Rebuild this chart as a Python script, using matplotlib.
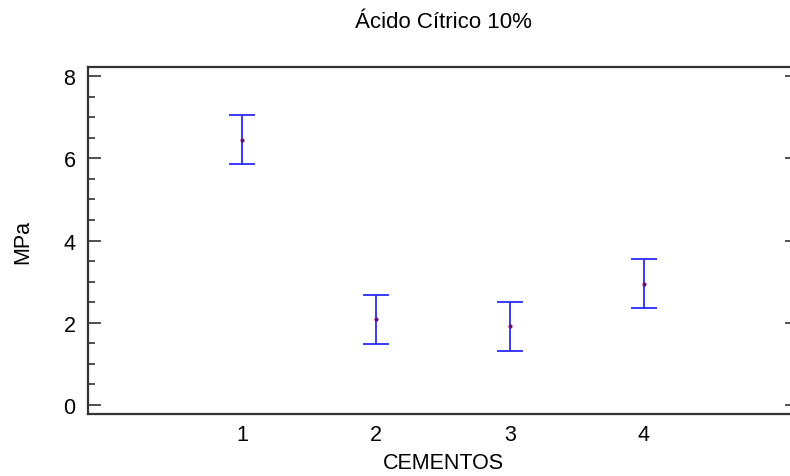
import matplotlib
matplotlib.use("Agg")
import matplotlib.pyplot as plt
from matplotlib.ticker import MultipleLocator

plt.rcParams['font.family'] = ['Liberation Sans', 'DejaVu Sans']

categories = [1, 2, 3, 4]
means = [6.45, 2.08, 1.91, 2.95]
lower = [5.85, 1.49, 1.32, 2.35]
upper = [7.05, 2.68, 2.51, 3.54]
tick_labels = ['1', '2', '3', '4']

err_lo = [m - l for m, l in zip(means, lower)]
err_hi = [u - m for m, u in zip(means, upper)]

fig = plt.figure(figsize=(7.9, 4.77), dpi=100)
ax = fig.add_axes([88/790, 62/477, (798-88)/790, (415-68)/477])

ax.errorbar(categories, means, yerr=[err_lo, err_hi], fmt='none',
            ecolor='#2a2aff', elinewidth=1.3, capsize=9.6, capthick=1.3)
ax.plot(categories, means, linestyle='none', marker='o', markersize=2,
        color='#6a1070')

ax.set_xlim(-0.15, 5.15)
ax.set_ylim(-0.22, 8.22)
ax.set_xticks(categories)
ax.set_xticklabels(tick_labels)
ax.yaxis.set_major_locator(MultipleLocator(2))
ax.yaxis.set_minor_locator(MultipleLocator(0.5))

ax.tick_params(axis='x', length=0, labelsize=15.5, pad=7)
ax.tick_params(axis='y', which='major', direction='in', length=9.4, width=1.2,
               color='#333333', labelsize=15.5, right=True, pad=9)
ax.tick_params(axis='y', which='minor', direction='in', length=5, width=1.2,
               color='#333333', right=False)

for s in ax.spines.values():
    s.set_color('#333333')
    s.set_linewidth(1.6)

ax.set_xlabel('CEMENTOS', fontsize=15.5, labelpad=5)
ax.set_ylabel('MPa', fontsize=15.5, labelpad=22)
fig.text(443/790, 1 - 23/477, 'Ácido Cítrico 10%', fontsize=16,
         ha='center', va='center')

fig.savefig('out.png', dpi=100)
